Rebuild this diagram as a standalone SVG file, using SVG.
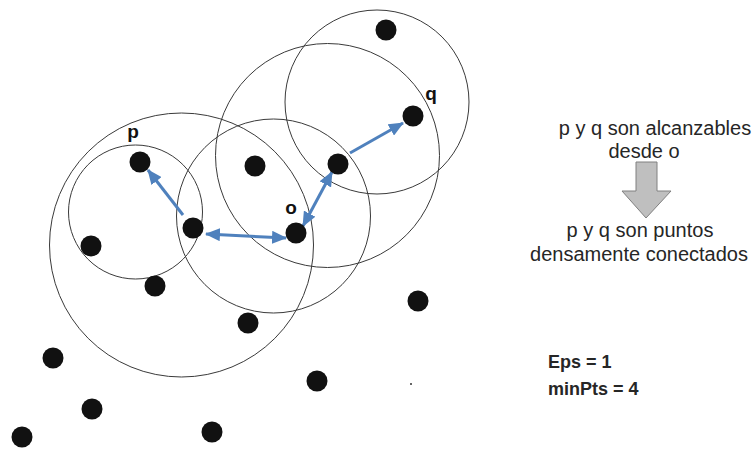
<svg xmlns="http://www.w3.org/2000/svg" width="755" height="450" viewBox="0 0 755 450">
<defs>
<style>
.ring{fill:none;stroke:#3a3a3a;stroke-width:1}
.pt{fill:#111}
.lbl{font-family:"Liberation Sans",Arial,sans-serif;font-weight:bold;font-size:19px;fill:#111;text-anchor:middle}
.txt{font-family:"Liberation Sans",Arial,sans-serif;font-size:20px;fill:#262626;text-anchor:middle}
.par{font-family:"Liberation Sans",Arial,sans-serif;font-weight:bold;font-size:18px;fill:#262626}
.link{fill:none;stroke:#4f81bd;stroke-width:3}
</style>
<marker id="ah" markerUnits="userSpaceOnUse" markerWidth="15" markerHeight="13" refX="14" refY="6.5" orient="auto-start-reverse" viewBox="0 0 15 13">
<path d="M0,0 L15,6.5 L0,13 Z" fill="#4f81bd"/>
</marker>
</defs>
<rect width="755" height="450" fill="#fff"/>
<g id="circles">
<circle class="ring" cx="135.5" cy="212" r="67"/>
<circle class="ring" cx="181.5" cy="245" r="132"/>
<circle class="ring" cx="273.5" cy="216" r="97"/>
<circle class="ring" cx="327.5" cy="155.5" r="112"/>
<circle class="ring" cx="377" cy="102" r="92"/>
</g>
<g id="connectors">
<line class="link" x1="183" y1="215" x2="148" y2="170" marker-end="url(#ah)"/>
<line class="link" x1="206" y1="234" x2="286" y2="238" marker-start="url(#ah)" marker-end="url(#ah)"/>
<line class="link" x1="303" y1="226" x2="332" y2="172" marker-start="url(#ah)" marker-end="url(#ah)"/>
<line class="link" x1="350" y1="153" x2="403" y2="123" marker-end="url(#ah)"/>
</g>
<g id="points">
<circle id="n1" class="pt" cx="386" cy="30" r="10.5"/>
<circle id="q" class="pt" cx="413" cy="116" r="10.5"/>
<circle id="p" class="pt" cx="140" cy="162" r="10.5"/>
<circle id="n4" class="pt" cx="255" cy="166" r="10.5"/>
<circle id="n5" class="pt" cx="338" cy="164" r="10.5"/>
<circle id="n6" class="pt" cx="193" cy="228" r="10.5"/>
<circle id="o" class="pt" cx="296" cy="233" r="10.5"/>
<circle id="n8" class="pt" cx="91" cy="246" r="10.5"/>
<circle id="n9" class="pt" cx="155" cy="286" r="10.5"/>
<circle id="n10" class="pt" cx="418" cy="301" r="10.5"/>
<circle id="n11" class="pt" cx="248" cy="323" r="10.5"/>
<circle id="n12" class="pt" cx="53" cy="358" r="10.5"/>
<circle id="n13" class="pt" cx="317" cy="381" r="10.5"/>
<circle id="n14" class="pt" cx="92" cy="409" r="10.5"/>
<circle id="n15" class="pt" cx="22" cy="437" r="10.5"/>
<circle id="n16" class="pt" cx="212" cy="432" r="10.5"/>
<circle cx="411" cy="384" r="1" fill="#333"/>
</g>
<g id="labels">
<text class="lbl" x="133" y="138">p</text>
<text class="lbl" x="431" y="100">q</text>
<text class="lbl" x="291" y="214">o</text>
</g>
<g id="note">
<text class="txt" x="655" y="135">p y q son alcanzables</text>
<text class="txt" x="644" y="158">desde o</text>
<path d="M636,162 H657 V191 H671 L646,218 L622,191 H636 Z" fill="#bfbfbf" stroke="#808080" stroke-width="1"/>
<text class="txt" x="640" y="237">p y q son puntos</text>
<text class="txt" x="639" y="261">densamente conectados</text>
</g>
<g id="params">
<text class="par" x="548" y="368">Eps = 1</text>
<text class="par" x="548" y="395">minPts = 4</text>
</g>
</svg>
